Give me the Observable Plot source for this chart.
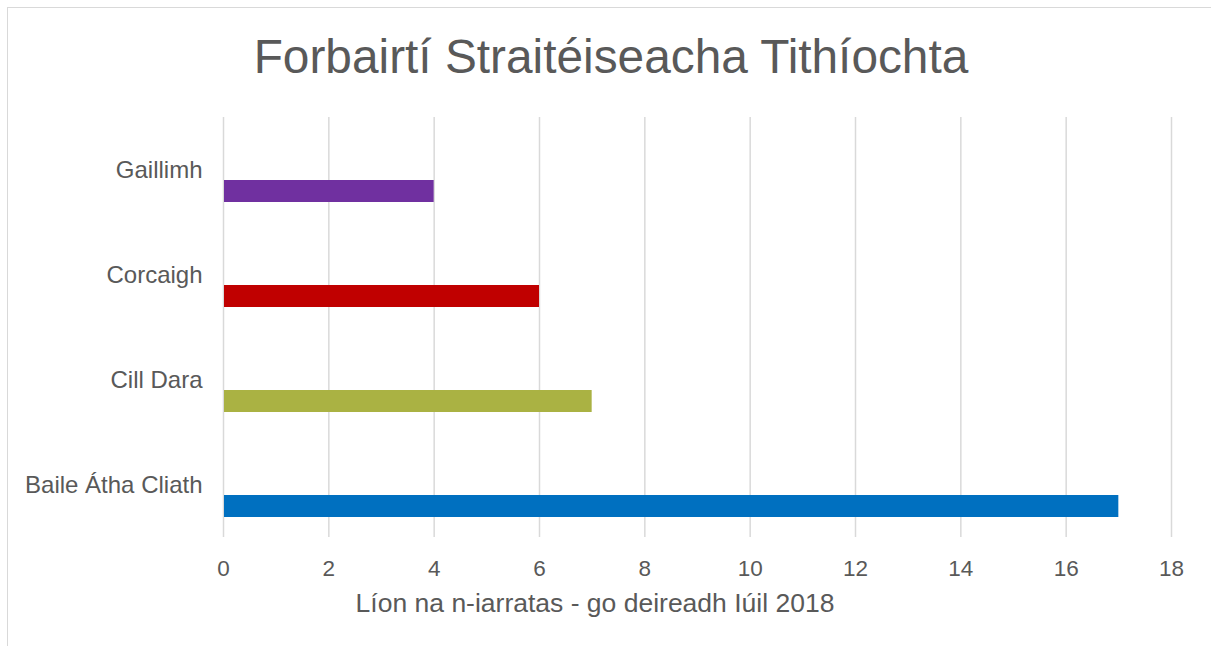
<!DOCTYPE html>
<html>
<head>
<meta charset="utf-8">
<script src="https://cdn.jsdelivr.net/npm/d3@7"></script>
<script src="https://cdn.jsdelivr.net/npm/@observablehq/plot@0.6"></script>
<style>
  html, body { margin: 0; padding: 0; background: #fff; }
  #wrap { position: relative; width: 1211px; height: 646px; overflow: hidden; font-family: "Liberation Sans", Arial, sans-serif; color: #595959; }
  #border { position: absolute; left: 7px; top: 7px; width: 1300px; height: 800px; border-left: 1.5px solid #D9D9D9; border-top: 1.5px solid #D9D9D9; }
  #title { position: absolute; left: 611px; top: 33px; transform: translateX(-50%); white-space: nowrap; font-size: 47.8px; line-height: 1; }
  #chart { position: absolute; left: 0; top: 110px; }
  #caption { position: absolute; left: 595px; top: 590px; transform: translateX(-50%); white-space: nowrap; font-size: 26.5px; line-height: 1; }
</style>
</head>
<body>
<div id="wrap">
  <div id="border"></div>
  <div id="title">Forbairtí Straitéiseacha Tithíochta</div>
  <div id="chart"></div>
  <div id="caption">Líon na n-iarratas - go deireadh Iúil 2018</div>
</div>
<script>
const categories = ["Gaillimh", "Corcaigh", "Cill Dara", "Baile Átha Cliath"];
const values = [4, 6, 7, 17];
const colors = ["#7030A0", "#C00000", "#AAB243", "#0070C0"];
const xTicks = [0, 2, 4, 6, 8, 10, 12, 14, 16, 18];

const data = categories.map((c, i) => ({ name: c, value: values[i], color: colors[i] }));

const chart = Plot.plot({
  width: 1211,
  height: 480,
  marginTop: 7,
  marginBottom: 53,
  marginLeft: 223,
  marginRight: 40,
  style: { fontFamily: "'Liberation Sans', Arial, sans-serif", color: "#595959", background: "transparent", overflow: "visible" },
  x: { domain: [0, 18], ticks: xTicks },
  y: { domain: categories, padding: 0 },
  marks: [
    Plot.gridX(xTicks, { stroke: "#D9D9D9", strokeOpacity: 1, strokeWidth: 1.5 }),
    Plot.barX(data, { x: "value", y: "name", fill: "color", insetTop: 63, insetBottom: 20, insetLeft: 1 }),
    Plot.axisX(xTicks, { tickSize: 0, tickPadding: 23, fontSize: 22.5, label: null, fill: "#595959" }),
    Plot.axisY({ tickSize: 0, tickPadding: 21, fontSize: 24, label: null, fill: "#595959" })
  ]
});
document.getElementById("chart").appendChild(chart);
</script>
</body>
</html>
